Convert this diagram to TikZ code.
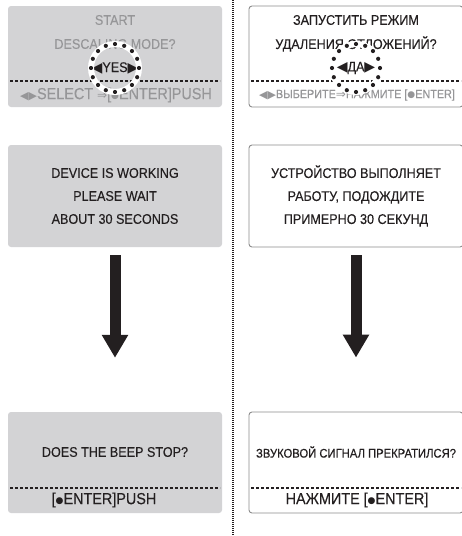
\documentclass[tikz,border=0pt]{standalone}
\usepackage{fontspec}
\setmainfont{Liberation Sans}[FakeStretch=0.9,FakeBold=0.25]
\newfontfamily\symfont{DejaVu Sans}
\usetikzlibrary{arrows.meta}
\definecolor{boxgray}{RGB}{211,211,213}
\definecolor{ink}{RGB}{35,31,32}
\definecolor{dimtext}{RGB}{150,150,152}
\definecolor{edge}{RGB}{140,140,140}
\newcommand{\tri}[1]{{\symfont\fontsize{14}{10}\selectfont #1}}
\newcommand{\trism}[1]{{\symfont\fontsize{11}{10}\selectfont #1}}
\newcommand{\imp}{{\symfont\fontsize{12}{12}\selectfont ⇒}}
\newcommand{\bul}{\raisebox{0.8pt}{\symfont\fontsize{9}{8}\selectfont ●}}
\begin{document}
\begin{tikzpicture}[x=1pt,y=-1pt,
  lbox/.style={fill=boxgray, rounded corners=3pt, minimum width=214pt, inner sep=0pt},
  rbox/.style={draw=edge, line width=0.9pt, fill=white, rounded corners=3pt, minimum width=214pt, inner sep=0pt},
  txt/.style={text=ink, inner sep=0pt, font=\fontsize{14}{23}\selectfont, align=center},
  dim/.style={text=dimtext},
  sep/.style={ink, line width=1.3pt, dash pattern=on 2.5pt off 2.5pt},
  bigarrow/.style={ink, line width=11pt, -{Triangle[width=25pt,length=23pt]}},
  vsep/.style={ink, line width=1.4pt, dash pattern=on 1pt off 1pt},
  ring/.style={white, line width=6pt}
]
\useasboundingbox (0,0) rectangle (461,536);
% boxes
\node[lbox, minimum height=101pt] (b1) at (115,56.5) {};
\node[lbox, minimum height=102pt] (b2) at (115,196) {};
\node[lbox, minimum height=101pt] (b3) at (115,462.5) {};
\node[rbox, minimum height=101pt] (r1) at (356,56.5) {};
\node[rbox, minimum height=102pt] (r2) at (356,196) {};
\node[rbox, minimum height=101pt] (r3) at (356,462.5) {};
% vertical separator
\coordinate (vt) at (233,0);
\coordinate (vb) at (233,536);
\draw[vsep] (vt) -- (vb);
% box 1 left
\node[txt,dim] (l1a) at (115,20) {START};
\node[txt,dim] (l1b) at (115,44) {DESCALING MODE?};
\node[txt] (l1c) at (115,68) {\tri{◀}YES\tri{▶}};
\coordinate (s1a) at (10,81);
\coordinate (s1b) at (220,81);
\draw[sep] (s1a) -- (s1b);
\node[txt,dim,font=\fontsize{16}{16}\selectfont] (l1d) at (116,95) {\trism{◀▶}SELECT \imp[\bul ENTER]PUSH};
% box 1 right
\node[txt] (r1a) at (356,20) {ЗАПУСТИТЬ РЕЖИМ};
\node[txt] (r1b) at (356,44) {УДАЛЕНИЯ ОТЛОЖЕНИЙ?};
\node[txt] (r1c) at (356,68) {\tri{◀}ДА\tri{▶}};
\coordinate (s2a) at (251,81);
\coordinate (s2b) at (461,81);
\draw[sep] (s2a) -- (s2b);
\node[txt,dim,font=\fontsize{12}{13}\selectfont] (r1d) at (357,95) {\trism{◀▶}ВЫБЕРИТЕ\imp НАЖМИТЕ [\bul ENTER]};
% circles
\coordinate (c1) at (115,68);
\coordinate (c2) at (356,68);
\foreach \c in {c1,c2}{
  \draw[ring] (\c) circle (24);
  \foreach \a in {0,22.5,...,337.5}
    \fill[ink] (\c) ++(\a:24) circle (2.1);
}
% box 2
\node[txt] (l2) at (115,196) {DEVICE IS WORKING\\PLEASE WAIT\\ABOUT 30 SECONDS};
\node[txt] (r2t) at (356,196) {УСТРОЙСТВО ВЫПОЛНЯЕТ\\РАБОТУ, ПОДОЖДИТЕ\\ПРИМЕРНО 30 СЕКУНД};
% arrows
\coordinate (a1s) at ([yshift=-8pt]b2.south);
\coordinate (a1e) at ([yshift=54pt]b3.north);
\draw[bigarrow] (a1s) -- (a1e);
\coordinate (a2s) at ([yshift=-8pt]r2.south);
\coordinate (a2e) at ([yshift=54pt]r3.north);
\draw[bigarrow] (a2s) -- (a2e);
% box 3
\node[txt] (l3a) at (115,452) {DOES THE BEEP STOP?};
\coordinate (s3a) at (10,488);
\coordinate (s3b) at (220,488);
\draw[sep] (s3a) -- (s3b);
\node[txt,font=\fontsize{16}{16}\selectfont] (l3b) at (104,500) {[\bul ENTER]PUSH};
\node[txt,font=\fontsize{12.5}{12}\selectfont] (r3a) at (356,452) {ЗВУКОВОЙ СИГНАЛ ПРЕКРАТИЛСЯ?};
\coordinate (s4a) at (251,488);
\coordinate (s4b) at (461,488);
\draw[sep] (s4a) -- (s4b);
\node[txt,font=\fontsize{16}{16}\selectfont] (r3b) at (357,500) {НАЖМИТЕ [\bul ENTER]};
\end{tikzpicture}
\end{document}
